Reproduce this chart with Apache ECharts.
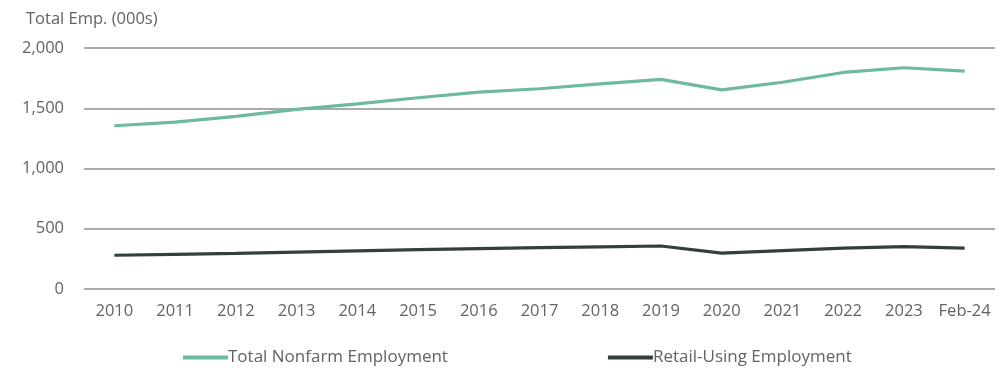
<!DOCTYPE html>
<html><head><meta charset="utf-8">
<script src="https://cdn.jsdelivr.net/npm/echarts@6/dist/echarts.min.js"></script>
<style>html,body{margin:0;padding:0;background:#fff}#c{width:1005px;height:370px}</style>
</head><body><div id="c"></div>
<script>
var categories = ['2010','2011','2012','2013','2014','2015','2016','2017','2018','2019','2020','2021','2022','2023','Feb-24'];
var totalNonfarm = [1355,1385,1432,1490,1537,1587,1634,1662,1703,1739,1653,1716,1797,1836,1808];
var retailUsing = [280,288,296,306,316,326,335,343,350,357,297,318,340,352,340];
var yTicks = [0,500,1000,1500,2000];
var FONT = '"Open Sans", sans-serif';
var TXT = '#606463';
var chart = echarts.init(document.getElementById('c'));
chart.setOption({
  animation:false,
  title:{text:'Total Emp. (000s)',left:21,top:6,textStyle:{fontFamily:FONT,fontSize:16.5,fontWeight:'normal',color:TXT}},
  legend:{left:178,top:344,itemGap:160,itemWidth:45,itemHeight:4,icon:'rect',
    textStyle:{fontFamily:FONT,fontSize:17,color:TXT,padding:[0,0,0,-5]},
    data:['Total Nonfarm Employment','Retail-Using Employment']},
  grid:{left:84,right:10,top:48,bottom:81},
  xAxis:{type:'category',data:categories,boundaryGap:true,
    axisLine:{show:false},axisTick:{show:false},
    axisLabel:{interval:0,fontFamily:FONT,fontSize:16.5,color:TXT,margin:14}},
  yAxis:{type:'value',min:yTicks[0],max:yTicks[yTicks.length-1],interval:500,
    axisLine:{show:false},axisTick:{show:false},
    splitLine:{lineStyle:{color:'#8a8f8e',width:1.5}},
    axisLabel:{fontFamily:FONT,fontSize:16.5,color:TXT,margin:20,
      formatter:function(v){return v.toLocaleString('en-US');}}},
  series:[
    {name:'Total Nonfarm Employment',type:'line',data:totalNonfarm,symbol:'none',
      lineStyle:{color:'#6db9a2',width:3.2},itemStyle:{color:'#6db9a2'}},
    {name:'Retail-Using Employment',type:'line',data:retailUsing,symbol:'none',
      lineStyle:{color:'#333f3f',width:3.2},itemStyle:{color:'#333f3f'}}
  ]
});
</script></body></html>
